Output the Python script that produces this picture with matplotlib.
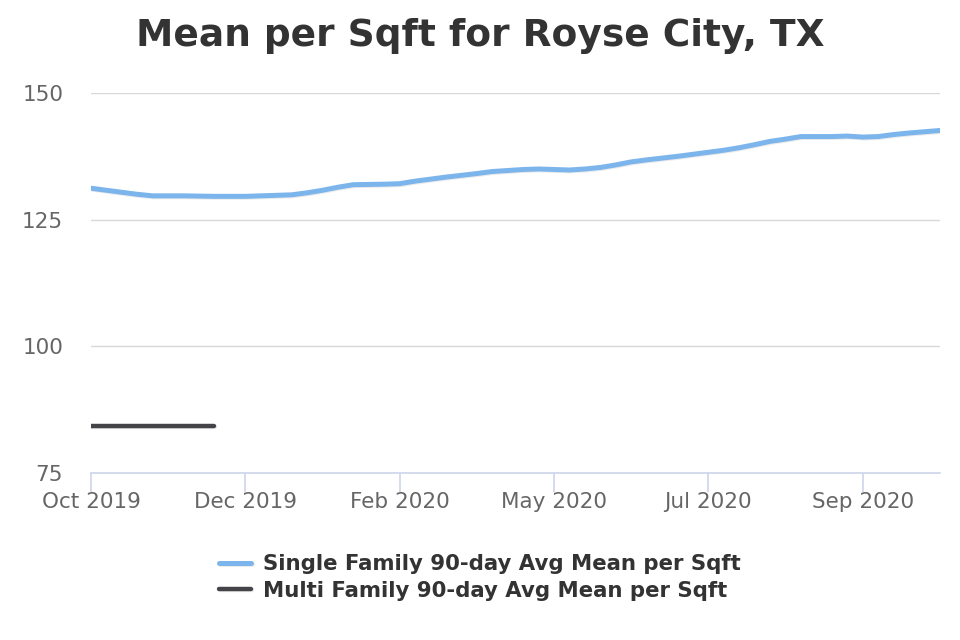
import numpy as np
import matplotlib
matplotlib.use("Agg")
import matplotlib.pyplot as plt
import matplotlib.patheffects as pe

# weekly-ish points, Oct 2019 .. Oct 2020
single_family = [131.2, 130.8, 130.4, 130.0, 129.7, 129.7, 129.7, 129.65, 129.6, 129.6,
                 129.6, 129.7, 129.8, 129.9, 130.3, 130.8, 131.4, 131.9, 131.95, 132.0,
                 132.1, 132.6, 133.0, 133.4, 133.75, 134.1, 134.5, 134.7, 134.9, 135.0,
                 134.9, 134.8, 135.0, 135.3, 135.8, 136.4, 136.8, 137.15, 137.5, 137.9,
                 138.3, 138.7, 139.2, 139.8, 140.45, 140.9, 141.4, 141.4, 141.4, 141.5,
                 141.3, 141.4, 141.8, 142.1, 142.35, 142.6]
multi_family = [84.2, 84.2, 84.2, 84.2, 84.2, 84.2, 84.2, 84.2, 84.2]

tick_labels = ["Oct 2019", "Dec 2019", "Feb 2020", "May 2020", "Jul 2020", "Sep 2020"]
y_ticks = [75, 100, 125, 150]

fig = plt.figure(figsize=(9.6, 6.4), dpi=100)
ax = fig.add_axes([0.0948, 0.261, 0.8842, 0.5937])

shadow = [pe.SimpleLineShadow(offset=(0.7, -0.7), alpha=0.08, rho=1.0), pe.Normal()]

x1 = np.arange(len(single_family))
x2 = np.arange(len(multi_family))
ax.plot(x1, single_family, color="#7cb5ec", lw=3.6, solid_capstyle="round",
        path_effects=shadow, label="Single Family 90-day Avg Mean per Sqft", zorder=3)
ax.plot(x2, multi_family, color="#434348", lw=3.2, solid_capstyle="round",
        path_effects=shadow, label="Multi Family 90-day Avg Mean per Sqft", zorder=3)

ax.set_xlim(0, len(single_family) - 1)
ax.set_ylim(75, 150)
ax.set_yticks(y_ticks)
ax.set_xticks(np.arange(len(tick_labels)) * 10)
ax.set_xticklabels(tick_labels)

for s in ["top", "right", "left"]:
    ax.spines[s].set_visible(False)
ax.spines["bottom"].set_color("#ccd6eb")
ax.spines["bottom"].set_linewidth(1.2)

ax.grid(axis="y", color="#d8d8d8", lw=1.0)
ax.set_axisbelow(True)
ax.tick_params(axis="y", length=0, pad=20, labelsize=15.5, labelcolor="#666666")
ax.tick_params(axis="x", length=13.5, width=1.2, color="#ccd6eb", pad=0,
               labelsize=15.5, labelcolor="#666666")

fig.text(0.5, 0.944, "Mean per Sqft for Royse City, TX", ha="center", va="center",
         fontsize=27, fontweight="bold", color="#333333")

leg = fig.legend(loc="upper center", bbox_to_anchor=(0.5, 0.147), ncol=1, frameon=False,
                 fontsize=15.3, handlelength=1.5, handletextpad=0.55, labelspacing=0.3,
                 borderaxespad=0)
for t in leg.get_texts():
    t.set_fontweight("bold")
    t.set_color("#333333")

fig.savefig("out.png", dpi=100)
